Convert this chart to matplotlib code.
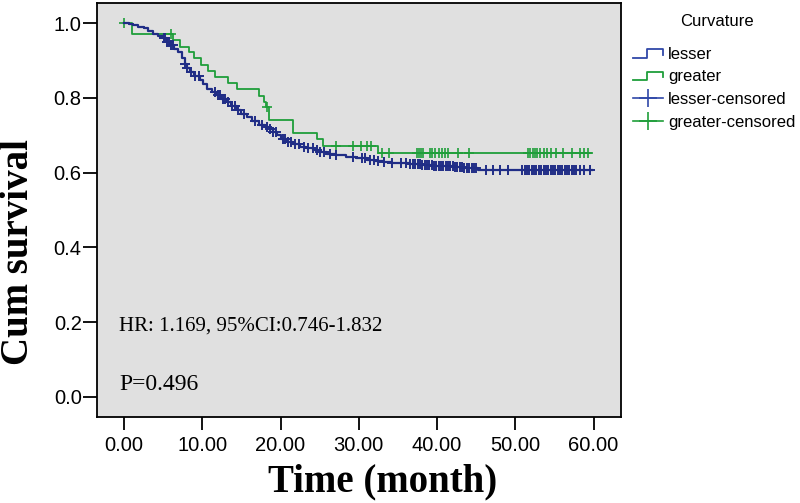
import numpy as np
import matplotlib
matplotlib.use("Agg")
import matplotlib.pyplot as plt
from matplotlib.lines import Line2D
from matplotlib.legend_handler import HandlerBase
from matplotlib.ticker import FormatStrFormatter

# --- datos ---
# curva "lesser": tiempos (mes) y supervivencia tras cada paso
lesser_t = [0.0, 0.6, 1.2, 1.8, 2.5, 3.1, 3.7, 4.3, 5.0, 5.5, 5.9, 6.4, 6.9, 7.4,
            7.8, 8.1, 8.4, 9.0, 9.7, 10.1, 10.6, 11.2, 11.8, 12.4, 13.1, 13.7,
            14.4, 15.0, 15.7, 16.4, 17.2, 18.0, 18.6, 19.0, 19.5, 20.1, 20.8,
            21.6, 22.5, 23.3, 24.2, 25.0, 25.9, 27.1, 28.4, 29.6, 31.0, 32.0,
            33.1, 34.2, 35.2, 36.5, 38.0, 39.5, 41.0, 42.3, 43.5, 45.2]
lesser_s = [1.000, 0.998, 0.995, 0.991, 0.986, 0.979, 0.972, 0.966, 0.959, 0.950,
            0.941, 0.932, 0.923, 0.908, 0.892, 0.881, 0.870, 0.858, 0.847, 0.836,
            0.825, 0.816, 0.807, 0.798, 0.789, 0.778, 0.767, 0.758, 0.749, 0.738,
            0.727, 0.722, 0.718, 0.709, 0.700, 0.691, 0.682, 0.676, 0.669, 0.665,
            0.660, 0.655, 0.649, 0.646, 0.642, 0.638, 0.635, 0.632, 0.629, 0.627,
            0.625, 0.623, 0.621, 0.619, 0.617, 0.615, 0.613, 0.606]
lesser_fin = 59.8

greater_t = [0.0, 1.0, 6.2, 7.15, 8.3, 9.0, 9.9, 10.7, 11.6, 13.3, 14.5, 17.3,
             17.9, 18.2, 18.5, 21.6, 24.7, 25.4, 32.4]
greater_s = [1.000, 0.970, 0.954, 0.937, 0.922, 0.906, 0.888, 0.871, 0.855, 0.839,
             0.823, 0.806, 0.790, 0.776, 0.740, 0.706, 0.690, 0.671, 0.652]
greater_fin = 59.7

# tiempos censurados
lesser_cens = [5.1, 5.3, 5.5, 5.7, 6.0, 6.2, 7.8, 8.1, 8.5, 9.1, 9.6,
               11.6, 12.0, 12.3, 12.6, 12.9, 13.3, 13.8, 14.2, 14.6, 15.3,
               16.8, 17.6, 18.3, 18.7, 19.0, 19.4,
               20.3, 20.6, 21.0, 21.4, 21.8, 22.3, 23.0, 23.5, 24.1, 24.6, 25.0,
               25.6, 26.3, 27.1, 29.2, 30.4, 30.8, 31.4, 31.9, 32.5, 33.2, 34.2,
               35.4, 36.0, 36.6, 36.9, 37.2, 37.5, 37.8, 38.1, 38.4, 38.7, 39.0,
               39.3, 39.6, 39.9, 40.2, 40.5, 40.8, 41.1, 41.4, 41.7, 42.0, 42.3,
               42.6, 42.9, 43.2, 43.5, 43.8, 44.1, 44.4, 44.7, 45.0,
               46.3, 47.2, 48.0, 49.0,
               50.9, 51.2, 51.5, 51.8, 52.1, 52.4, 52.7, 53.0, 53.3, 53.6, 53.9,
               54.2, 54.5, 54.8, 55.1, 55.4, 55.7, 56.0, 56.3, 56.6, 56.9, 57.2,
               57.5, 57.8, 58.2, 58.8, 59.5]
greater_cens = [0.0, 6.0, 18.3, 27.1, 29.3, 30.3, 31.0, 31.6, 32.9, 33.9,
                37.4, 37.7, 38.0, 38.2, 39.1, 39.4, 39.7, 40.2, 40.6, 41.0, 41.4,
                42.7, 44.1, 51.6, 51.9, 52.2, 52.5, 52.8, 53.2, 53.6, 54.1, 54.6,
                55.2, 56.1, 57.3, 58.2, 58.8, 59.3]

x_ticks = [0, 10, 20, 30, 40, 50, 60]
y_ticks = [0.0, 0.2, 0.4, 0.6, 0.8, 1.0]

azul = '#202d86'
verde = '#1f9e3a'


def nivel(tiempos, surv, t):
    # valor de la curva escalonada en el instante t
    i = np.searchsorted(tiempos, t, side='right') - 1
    return np.asarray(surv)[np.clip(i, 0, None)]


class IconoEscalon(HandlerBase):
    def create_artists(self, legend, orig_handle, xdescent, ydescent,
                       width, height, fontsize, trans):
        x0, y0 = -xdescent, -ydescent
        xs = [x0, x0 + 0.45 * width, x0 + 0.45 * width, x0 + width, x0 + width]
        ys = [y0 + 0.1 * height, y0 + 0.1 * height, y0 + 0.85 * height,
              y0 + 0.85 * height, y0 + 0.35 * height]
        return [Line2D(xs, ys, color=orig_handle.get_color(), lw=1.3,
                       transform=trans)]


fig = plt.figure(figsize=(8, 5.03), dpi=100)
ax = fig.add_axes([97 / 800, 1 - 417 / 503, 524 / 800, 414 / 503])
ax.set_facecolor('#e0e0e0')

# curvas de Kaplan-Meier
ax.step(lesser_t + [lesser_fin], lesser_s + [lesser_s[-1]], where='post',
        color=azul, lw=1.6, zorder=3)
ax.step(greater_t + [greater_fin], greater_s + [greater_s[-1]], where='post',
        color=verde, lw=1.3, zorder=2)

ax.plot(lesser_cens, nivel(lesser_t, lesser_s, lesser_cens), ls='none',
        marker='+', ms=7, mew=1.4, color=azul, zorder=3)
ax.plot(greater_cens, nivel(greater_t, greater_s, greater_cens), ls='none',
        marker='+', ms=7, mew=1.2, color=verde, zorder=2)

ax.set_xlim(-3.45, 63.5)
ax.set_ylim(-0.054, 1.054)
ax.set_xticks(x_ticks)
ax.set_yticks(y_ticks)
ax.xaxis.set_major_formatter(FormatStrFormatter('%.2f'))
ax.yaxis.set_major_formatter(FormatStrFormatter('%.1f'))

for s in ax.spines.values():
    s.set_linewidth(1.3)
    s.set_color('black')
ax.tick_params(axis='x', direction='out', length=9, width=1.3, pad=5,
               labelsize=14.5, top=False)
ax.tick_params(axis='y', direction='out', length=10, width=1.3, pad=1,
               labelsize=14.5, right=False)
for lab in ax.get_xticklabels() + ax.get_yticklabels():
    lab.set_fontfamily('Liberation Sans')

xl = ax.set_xlabel('Time (month)', fontsize=28, fontweight='bold',
                   fontfamily='Liberation Serif')
xl.set_verticalalignment('center')
ax.xaxis.set_label_coords((383 - 97) / 524, (417 - 482) / 414)
yl = ax.set_ylabel('Cum survival', fontsize=28, fontweight='bold',
                   fontfamily='Liberation Serif')
yl.set_verticalalignment('center')
ax.yaxis.set_label_coords((19 - 97) / 524, (417 - 252) / 414)

ax.text(-0.6, 0.189, 'HR: 1.169, 95%CI:0.746-1.832', fontsize=15,
        fontfamily='Liberation Serif', va='center', ha='left')
ax.text(-0.6, 0.034, 'P=0.496', fontsize=17,
        fontfamily='Liberation Serif', va='center', ha='left')

# leyenda
fig.text(717 / 800, 1 - 21 / 503, 'Curvature', fontsize=12,
         fontfamily='Liberation Sans', ha='center', va='center')
h_lesser = Line2D([], [], color='#3048a8')
h_greater = Line2D([], [], color=verde)
h_lc = Line2D([], [], color='#3048a8', lw=1.2, marker='+', ms=13, mew=1.2)
h_gc = Line2D([], [], color=verde, lw=1.2, marker='+', ms=13, mew=1.2)
leg = fig.legend([h_lesser, h_greater, h_lc, h_gc],
                 ['lesser', 'greater', 'lesser-censored', 'greater-censored'],
                 handler_map={h_lesser: IconoEscalon(), h_greater: IconoEscalon()},
                 loc='upper left',
                 bbox_to_anchor=(633 / 800, 1 - 47 / 503),
                 frameon=False, handlelength=1.8, handletextpad=0.3,
                 labelspacing=0.45, borderpad=0, borderaxespad=0, numpoints=1,
                 prop={'family': 'Liberation Sans', 'size': 12})

fig.savefig('out.png', dpi=100)
